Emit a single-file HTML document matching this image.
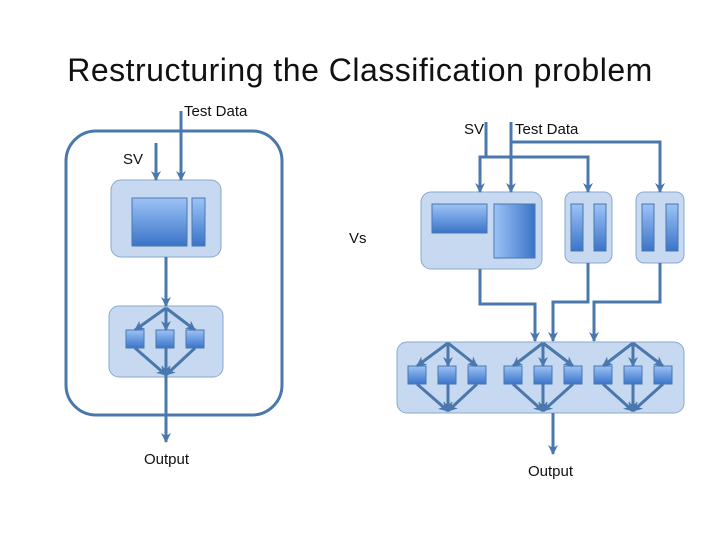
<!DOCTYPE html>
<html><head><style>
body{margin:0;background:#fff;}
svg text{font-family:"Liberation Sans",sans-serif;}
</style></head><body>
<svg width="720" height="540" viewBox="0 0 720 540" xmlns="http://www.w3.org/2000/svg">
<defs>
<linearGradient id="g" x1="0" y1="0" x2="0" y2="1"><stop offset="0" stop-color="#9dc3f7"/><stop offset="1" stop-color="#3a74c8"/></linearGradient>
<linearGradient id="gh" x1="0" y1="0" x2="1" y2="0"><stop offset="0" stop-color="#9dc3f7"/><stop offset="1" stop-color="#3a74c8"/></linearGradient>
<marker id="a" markerWidth="12" markerHeight="12" refX="9" refY="5" orient="auto" markerUnits="userSpaceOnUse"><path d="M0,0 L10,5 L0,10 L3,5z" fill="#4a78ad"/></marker>
</defs>
<text x="360" y="81" font-size="32" text-anchor="middle" fill="#111" letter-spacing="0.5">Restructuring the Classification problem</text>
<g fill="#111" font-size="15">
<text x="184" y="116">Test Data</text>
<text x="123" y="164">SV</text>
<text x="144" y="464">Output</text>
<text x="349" y="243">Vs</text>
<text x="464" y="134">SV</text>
<text x="515" y="134">Test Data</text>
<text x="528" y="476">Output</text>
</g>
<g stroke="#4a78ad" stroke-width="3" fill="none">
<rect x="66" y="131" width="216" height="284" rx="30"/>
</g>
<g fill="#c6d9f1" stroke="#8aa8cf" stroke-width="1">
<rect x="111" y="180" width="110" height="77" rx="10"/>
<rect x="109" y="306" width="114" height="71" rx="10"/>
<rect x="421" y="192" width="121" height="77" rx="10"/>
<rect x="565" y="192" width="47" height="71" rx="8"/>
<rect x="636" y="192" width="48" height="71" rx="8"/>
<rect x="397" y="342" width="287" height="71" rx="10"/>
</g>
<g stroke="#4a78ad" stroke-width="1">
<rect x="132" y="198" width="55" height="48" fill="url(#g)"/>
<rect x="192" y="198" width="13" height="48" fill="url(#g)"/>
<rect x="432" y="204" width="55" height="29" fill="url(#g)"/>
<rect x="494" y="204" width="41" height="54" fill="url(#gh)"/>
<rect x="571" y="204" width="12" height="47" fill="url(#g)"/>
<rect x="594" y="204" width="12" height="47" fill="url(#g)"/>
<rect x="642" y="204" width="12" height="47" fill="url(#g)"/>
<rect x="666" y="204" width="12" height="47" fill="url(#g)"/>
<rect x="126" y="330" width="18" height="18" fill="url(#g)"/>
<rect x="156" y="330" width="18" height="18" fill="url(#g)"/>
<rect x="186" y="330" width="18" height="18" fill="url(#g)"/>
<rect x="408" y="366" width="18" height="18" fill="url(#g)"/>
<rect x="438" y="366" width="18" height="18" fill="url(#g)"/>
<rect x="468" y="366" width="18" height="18" fill="url(#g)"/>
<rect x="504" y="366" width="18" height="18" fill="url(#g)"/>
<rect x="534" y="366" width="18" height="18" fill="url(#g)"/>
<rect x="564" y="366" width="18" height="18" fill="url(#g)"/>
<rect x="594" y="366" width="18" height="18" fill="url(#g)"/>
<rect x="624" y="366" width="18" height="18" fill="url(#g)"/>
<rect x="654" y="366" width="18" height="18" fill="url(#g)"/>
</g>
<g stroke="#4a78ad" stroke-width="3" fill="none" marker-end="url(#a)">
<path d="M181,111 V180"/>
<path d="M156,143 V180"/>
<path d="M166,257 V306"/>
<path d="M166,308 L135,330"/><path d="M166,308 V330"/><path d="M166,308 L195,330"/>
<path d="M135,348 L166,375"/><path d="M195,348 L166,375"/><path d="M166,348 V375"/>
<path d="M166,375 V442"/>
<path d="M486,122 V157 H480 V192"/>
<path d="M486,157 H588 V192"/>
<path d="M511,122 V192"/>
<path d="M511,142 H660 V192"/>
<path d="M480,269 V304 H535 V341"/>
<path d="M588,263 V302 H553 V341"/>
<path d="M660,263 V302 H594 V341"/>
<path d="M553,413 V454"/>
</g>
<g stroke="#4a78ad" stroke-width="3" fill="none" marker-end="url(#a)">
<path d="M448,343 L417,366"/><path d="M448,343 V366"/><path d="M448,343 L477,366"/>
<path d="M417,384 L448,411"/><path d="M448,384 V411"/><path d="M477,384 L448,411"/>
<path d="M543,343 L513,366"/><path d="M543,343 V366"/><path d="M543,343 L573,366"/>
<path d="M513,384 L543,411"/><path d="M543,384 V411"/><path d="M573,384 L543,411"/>
<path d="M633,343 L603,366"/><path d="M633,343 V366"/><path d="M633,343 L663,366"/>
<path d="M603,384 L633,411"/><path d="M633,384 V411"/><path d="M663,384 L633,411"/>
</g>
</svg>
</body></html>
